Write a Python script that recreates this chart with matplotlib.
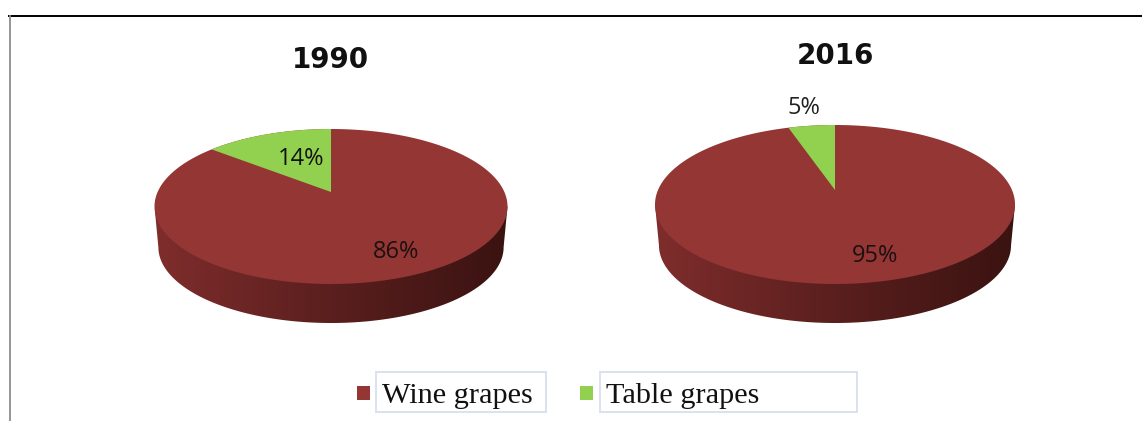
import numpy as np
import matplotlib
matplotlib.use("Agg")
import matplotlib.pyplot as plt
from matplotlib.patches import Rectangle, Polygon
from matplotlib.colors import LinearSegmentedColormap

# Datos
categorias = ['Wine grapes', 'Table grapes']
anios = ['1990', '2016']
valores_1990 = [86, 14]
valores_2016 = [95, 5]

rojo = '#943634'
verde = '#92D050'
sombra = LinearSegmentedColormap.from_list('sombra', ['#7e2d2c', '#5a1f1e', '#3a1311'])

fig = plt.figure(figsize=(11.42, 4.21), dpi=100)
ax = fig.add_axes([0, 0, 1, 1])
ax.set_axis_off()


# Pie 3D con perspectiva: el centro del circulo no queda en el centro de la elipse
def proyectar(theta, cx, cy, arriba, abajo, ancho):
    k = (abajo - arriba) / (abajo + arriba)
    a = arriba * (1 + k)
    b = ancho * np.sqrt(1 - k ** 2)
    w = 1 + k * np.cos(theta)
    return cx + b * np.sin(theta) / w, cy - a * np.cos(theta) / w


def dibujar_pie(valores, cx, cy, arriba, abajo, ancho, fondo):
    k = (abajo - arriba) / (abajo + arriba)
    t_ext = np.arccos(-k)  # angulo del punto mas ancho
    theta = np.linspace(0, 2 * np.pi, 400)

    # Costado con degradado
    x1, y1 = proyectar(theta, cx, cy, arriba, abajo, ancho)
    esc = 0.978
    t_bajo = np.linspace(t_ext, 2 * np.pi - t_ext, 200)
    x2, y2 = proyectar(t_bajo, cx, cy, arriba * esc, abajo * esc, ancho * esc)
    y2 = y2 + (fondo - y2.max())
    y_ext = proyectar(t_ext, cx, cy, arriba, abajo, ancho)[1]
    contorno = np.vstack([[cx + ancho, y_ext], np.column_stack([x2, y2]), [cx - ancho, y_ext]])
    clip = Polygon(contorno, transform=ax.transData, facecolor='none', edgecolor='none')
    ax.add_patch(clip)
    orden = np.linspace(0, 1, 200)
    im = ax.imshow(orden.reshape(1, -1), cmap=sombra, aspect='auto', zorder=1,
                   extent=[cx - ancho, cx + ancho, fondo, cy])
    im.set_clip_path(clip)

    # Tapa: sectores en sentido horario desde arriba
    fracciones = np.array(valores) / sum(valores)
    ax.fill(x1, y1, color=rojo, lw=0, zorder=2)
    t = np.linspace(2 * np.pi * (1 - fracciones[1]), 2 * np.pi, 80)
    xv, yv = proyectar(t, cx, cy, arriba, abajo, ancho)
    ax.fill(np.r_[cx, xv], np.r_[cy, yv], color=verde, lw=0, zorder=3)


dibujar_pie(valores_1990, 331, 192, 63, 92, 176.5, 323)
dibujar_pie(valores_2016, 835, 190, 65, 94, 180, 323)

ax.set_xlim(0, 1142)
ax.set_ylim(421, 0)

# Marco
ax.plot([9, 1142], [16, 16], color='#000000', lw=1.4, zorder=5)
ax.plot([9.5, 9.5], [16, 421], color='#8c8c8c', lw=1.3, zorder=5)

# Titulos
ax.text(330, 60, anios[0], fontsize=20, fontweight='bold', family='DejaVu Sans', ha='center', va='center', color='#111111')
ax.text(835, 56, anios[1], fontsize=20, fontweight='bold', family='DejaVu Sans', ha='center', va='center', color='#111111')

# Etiquetas
fuente = 'Open Sans'
ax.text(301, 159, f'{valores_1990[1]}%', fontsize=17, family=fuente, ha='center', va='center', color='#111111', zorder=6)
ax.text(396, 252, f'{valores_1990[0]}%', fontsize=17, family=fuente, ha='center', va='center', color='#1c1010', zorder=6)
ax.text(804, 108, f'{valores_2016[1]}%', fontsize=17, family=fuente, ha='center', va='center', color='#222222', zorder=6)
ax.text(875, 256, f'{valores_2016[0]}%', fontsize=17, family=fuente, ha='center', va='center', color='#1c1010', zorder=6)

# Leyenda
cajas = [(375.5, 170), (600, 257)]
marcas = [357, 580]
colores = [rojo, verde]
for nombre, (bx, bw), mx, col in zip(categorias, cajas, marcas, colores):
    ax.add_patch(Rectangle((bx, 372), bw, 40, facecolor='white', edgecolor='#d5dcec', lw=1.2, zorder=4))
    ax.add_patch(Rectangle((mx, 386), 13, 14, facecolor=col, edgecolor='none', zorder=4))
    ax.text(bx + 6, 396, nombre, fontsize=21.8, family='Liberation Serif', ha='left', va='center', color='#111111', zorder=6)

fig.savefig('out.png', dpi=100)
